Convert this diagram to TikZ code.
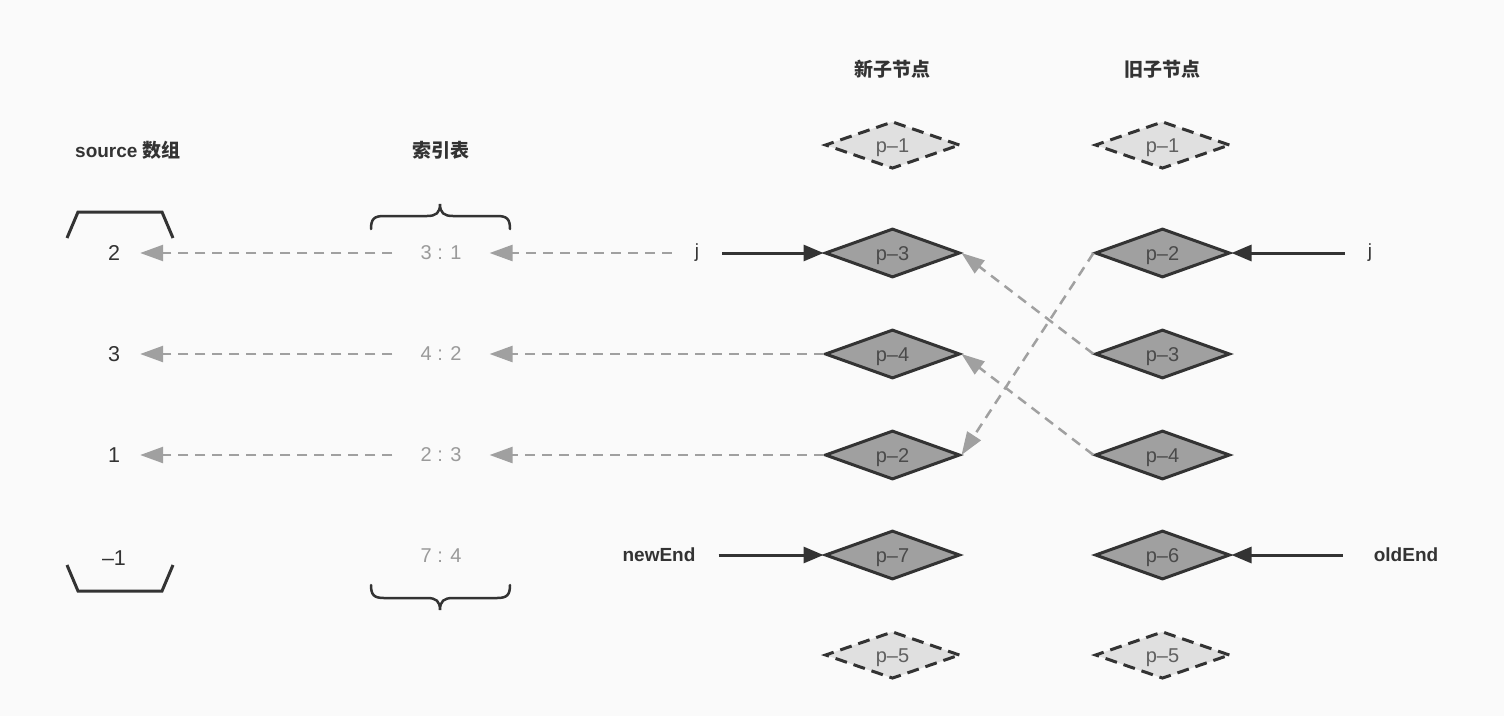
\documentclass[tikz,border=0pt]{standalone}
\usepackage{fontspec}
\setmainfont{Liberation Sans}
\newfontfamily\cjk{Noto Sans CJK SC}
\usetikzlibrary{shapes.geometric,arrows.meta}
\definecolor{bg}{HTML}{FAFAFA}
\definecolor{ink}{HTML}{333333}
\definecolor{dfill}{HTML}{A0A0A0}
\definecolor{lfill}{HTML}{E0E0E0}
\definecolor{garrow}{HTML}{A0A0A0}
\definecolor{gtext}{HTML}{9A9A9A}
\definecolor{dtext}{HTML}{4A4A4A}
\definecolor{ltext}{HTML}{606060}
\tikzset{
  dnode/.style={diamond, draw=ink, line width=3pt, fill=dfill, minimum width=135pt,
    minimum height=49pt, inner sep=0pt, text height=14pt, text depth=0pt,
    text=dtext, font=\fontsize{20}{24}\selectfont},
  lnode/.style={dnode, fill=lfill, text=ltext, minimum height=47pt, dash pattern=on 12pt off 7pt},
  lab/.style={text=ink, font=\fontsize{19}{23}\selectfont\bfseries},
  ptr/.style={text=ink, inner xsep=23pt, font=\fontsize{19}{23}\selectfont},
  ptrb/.style={ptr, font=\fontsize{19}{23}\selectfont\bfseries},
  srcnum/.style={text=ink, inner xsep=20pt, font=\fontsize{21.5}{25}\selectfont},
  idxnum/.style={text=gtext, inner xsep=28pt, font=\fontsize{20}{24}\selectfont},
  garr/.style={draw=garrow, line width=2.5pt, dash pattern=on 10pt off 7pt,
    -{Triangle[length=23pt,width=16pt]}},
  barr/.style={draw=ink, line width=3pt, -{Triangle[length=20pt,width=16pt]}},
  bracket/.style={draw=ink, line width=3pt},
  bracestyle/.style={draw=ink, line width=2.5pt, line cap=round},
}
\begin{document}
\begin{tikzpicture}[x=1pt, y=-1pt]
\useasboundingbox (0,0) rectangle (1504,716);
\fill[bg] (0,0) rectangle (1504,716);

% titles
\node[lab] (tnew) at (892,69) {\cjk 新子节点};
\node[lab] (told) at (1162,69) {\cjk 旧子节点};
\node[lab] (tsrc) at (128,150) {source {\cjk 数组}};
\node[lab] (tidx) at (441,150) {\cjk 索引表};

% new children
\node[lnode] (n1) at (892.5,145) {p–1};
\node[dnode] (n3) at (892.5,253) {p–3};
\node[dnode] (n4) at (892.5,354) {p–4};
\node[dnode] (n2) at (892.5,455) {p–2};
\node[dnode] (n7) at (892.5,555) {p–7};
\node[lnode] (n5) at (892.5,655) {p–5};

% old children
\node[lnode] (o1) at (1162.5,145) {p–1};
\node[dnode] (o2) at (1162.5,253) {p–2};
\node[dnode] (o3) at (1162.5,354) {p–3};
\node[dnode] (o4) at (1162.5,455) {p–4};
\node[dnode] (o6) at (1162.5,555) {p–6};
\node[lnode] (o5) at (1162.5,655) {p–5};

% source array
\node[srcnum] (s1) at (114,253) {2};
\node[srcnum] (s2) at (114,354) {3};
\node[srcnum] (s3) at (114,455) {1};
\node[srcnum] (s4) at (114,558) {–1};
\draw[bracket] (67,238) -- (78,212) -- (162,212) -- (173,238);
\draw[bracket] (67,565) -- (78,591) -- (162,591) -- (173,565);

% index table
\node[idxnum] (i1) at (441,253) {3 : 1};
\node[idxnum] (i2) at (441,354) {4 : 2};
\node[idxnum] (i3) at (441,455) {2 : 3};
\node[idxnum] (i4) at (441,556) {7 : 4};
\draw[bracestyle] (371,229) .. controls (371,219) and (374,216) .. (384,216) -- (427,216)
  .. controls (436,216) and (440,213) .. (440,204)
  .. controls (440,213) and (444,216) .. (453,216) -- (497,216)
  .. controls (507,216) and (510,219) .. (510,229);
\draw[bracestyle] (371,585) .. controls (371,595) and (374,598) .. (384,598) -- (427,598)
  .. controls (436,598) and (440,601) .. (440,610)
  .. controls (440,601) and (444,598) .. (453,598) -- (497,598)
  .. controls (507,598) and (510,595) .. (510,585);

% pointers
\node[ptr] (jn) at (697,253) {j};
\node[ptrb] (ne) at (659,555) {newEnd};
\node[ptr] (jo) at (1370,253) {j};
\node[ptrb, inner xsep=31pt] (oe) at (1406,555) {oldEnd};

% black arrows
\draw[barr] (jn.east) -- (n3.west);
\draw[barr] (ne.east) -- (n7.west);
\draw[barr] (jo.west) -- (o2.east);
\draw[barr] (oe.west) -- (o6.east);

% gray dashed arrows
\draw[garr] (jn.west) -- (i1.east);
\draw[garr] (i1.west) -- (s1.east);
\draw[garr] (n4.west) -- (i2.east);
\draw[garr] (i2.west) -- (s2.east);
\draw[garr] (n2.west) -- (i3.east);
\draw[garr] (i3.west) -- (s3.east);
\draw[garr] (o2.west) -- (n2.east);
\draw[garr] (o3.west) -- (n3.east);
\draw[garr] (o4.west) -- (n4.east);
\end{tikzpicture}
\end{document}
